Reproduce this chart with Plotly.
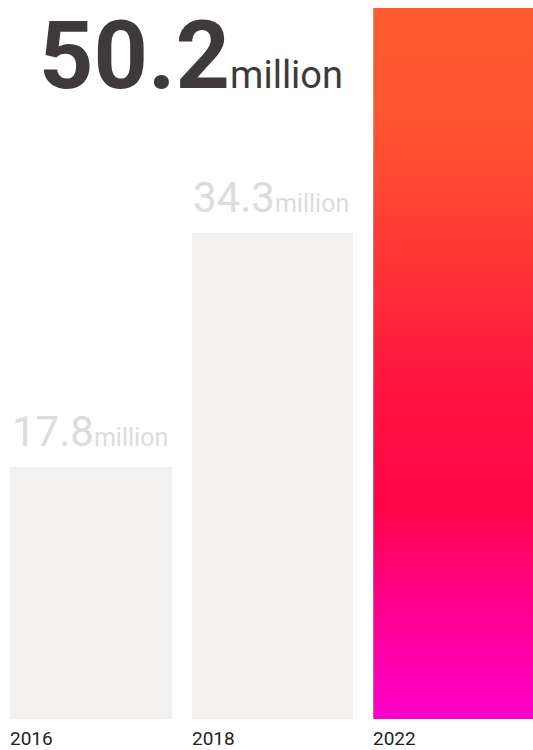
import plotly.graph_objects as go

years = ["2016", "2018", "2022"]
values = [17.8, 34.3, 50.2]
unit = "million"

grey_bar = "#f2f1ef"
label_grey = "#dcdcdc"
dark = "#3d3a39"
grad_scale = [
    [0.0, "#ff00cc"],
    [0.15, "#ff0092"],
    [0.30, "#ff0548"],
    [0.45, "#ff1240"],
    [0.65, "#ff3636"],
    [0.85, "#ff5731"],
    [1.0, "#ff5a30"],
]

bar_w = 0.89
xs = list(range(len(years)))

fig = go.Figure()
fig.add_trace(go.Bar(
    x=xs[:2], y=values[:2], width=bar_w,
    marker=dict(color=grey_bar, line=dict(width=0)),
    hoverinfo="skip", showlegend=False,
))
i = xs[2]
v = values[2]
fig.add_trace(go.Scatter(
    x=[i - bar_w / 2, i + bar_w / 2, i + bar_w / 2, i - bar_w / 2, i - bar_w / 2],
    y=[0, 0, v, v, 0],
    mode="none", fill="toself",
    fillgradient=dict(type="vertical", colorscale=grad_scale, start=0, stop=v),
    hoverinfo="skip", showlegend=False,
))

annotations = []
font_family = "Roboto, Inter, sans-serif"
for k in range(2):
    annotations.append(dict(
        x=xs[k] + bar_w / 2, y=values[k], xref="x", yref="y",
        xanchor="right", yanchor="bottom", xshift=-2, yshift=9,
        text=f"{values[k]}<span style='font-size:25px'>{unit}</span>",
        showarrow=False, font=dict(family=font_family, size=42, color=label_grey),
    ))
annotations.append(dict(
    x=xs[1] + bar_w / 2, y=values[2], xref="x", yref="y",
    xanchor="right", yanchor="top", xshift=-8, yshift=10,
    text=f"<b>{values[2]}</b><span style='font-size:38px'>{unit}</span>",
    showarrow=False, font=dict(family=font_family, size=95, color=dark),
))
for k, yr in enumerate(years):
    annotations.append(dict(
        x=xs[k] - bar_w / 2, y=0, xref="x", yref="paper",
        xanchor="left", yanchor="top", xshift=0, yshift=-8,
        borderpad=0, borderwidth=0,
        text=yr, showarrow=False,
        font=dict(family=font_family, size=19, color="#222222"),
    ))

fig.update_layout(
    width=533, height=750,
    margin=dict(l=0, r=0, t=0, b=31),
    paper_bgcolor="white", plot_bgcolor="white",
    xaxis=dict(range=[-0.5014, 2.4352], visible=False, fixedrange=True),
    yaxis=dict(range=[0, 50.765], visible=False, fixedrange=True),
    bargap=0, annotations=annotations,
)
fig.write_html(
    "out.html",
    config={"displayModeBar": False},
    post_script="document.body.style.margin='0';document.body.style.overflow='hidden';",
)
